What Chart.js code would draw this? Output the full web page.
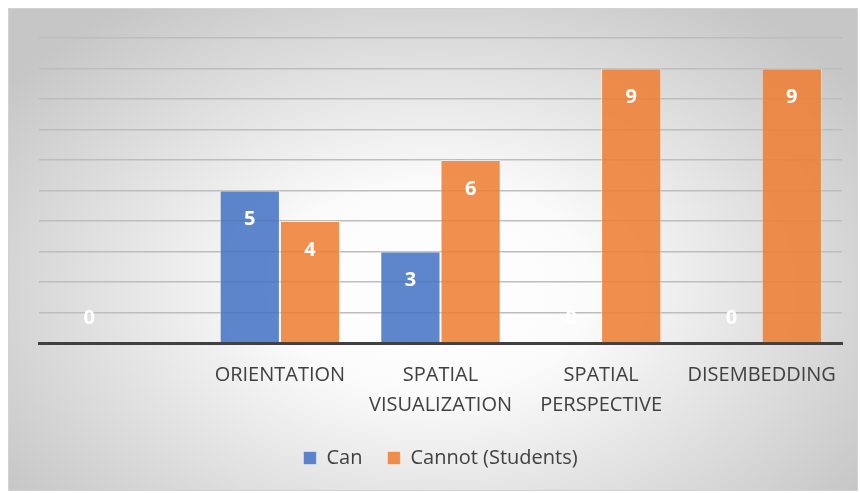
<!DOCTYPE html>
<html>
<head>
<meta charset="utf-8">
<script src="https://cdn.jsdelivr.net/npm/chart.js@4.4.1/dist/chart.umd.min.js"></script>
<style>
  html, body { margin: 0; padding: 0; background: #fff; }
  #frame {
    position: absolute; left: 8px; top: 8px; width: 848px; height: 481px;
    border: 1px solid #d2d2d2;
    background: radial-gradient(ellipse 62% 72% at 50% 58%, #ffffff 0%, #fbfbfb 30%, #c6c6c6 100%);
  }
  canvas { display: block; }
</style>
</head>
<body>
<div id="frame"><canvas id="chart" width="848" height="481"></canvas></div>
<script>
// data
const categories = ['', 'ORIENTATION', ['SPATIAL', 'VISUALIZATION'], ['SPATIAL', 'PERSPECTIVE'], 'DISEMBEDDING'];
const canValues = [0, 5, 3, 0, 0];
const cannotValues = [null, 4, 6, 9, 9];
const seriesNames = ['Can', 'Cannot (Students)'];

// white labels inside the bar top, zero values sit just above the axis
const barLabels = {
    id: 'barLabels',
    afterDatasetsDraw(chart) {
        const ctx = chart.ctx;
        ctx.save();
        ctx.font = 'bold 20px "Open Sans"';
        ctx.fillStyle = '#ffffff';
        ctx.textAlign = 'center';
        ctx.textBaseline = 'middle';
        chart.data.datasets.forEach((ds, i) => {
            const meta = chart.getDatasetMeta(i);
            meta.data.forEach((bar, j) => {
                const v = ds.data[j];
                if (v === null || v === undefined) return;
                const y = v === 0 ? bar.base - 25 : bar.y + 29;
                ctx.fillText(String(v), bar.x, y);
            });
        });
        ctx.restore();
    }
};

Chart.defaults.font.family = '"Open Sans"';
Chart.defaults.color = '#404040';

new Chart(document.getElementById('chart'), {
    type: 'bar',
    data: {
        labels: categories,
        datasets: [{
            label: seriesNames[0],
            data: canValues,
            backgroundColor: 'rgba(68,114,196,0.86)',
            borderColor: 'rgba(255,255,255,0.45)',
            borderWidth: 1
        }, {
            label: seriesNames[1],
            data: cannotValues,
            backgroundColor: 'rgba(237,125,49,0.86)',
            borderColor: 'rgba(255,255,255,0.45)',
            borderWidth: 1
        }]
    },
    options: {
        responsive: false,
        animation: false,
        layout: { padding: { left: 30, right: 15, top: 29, bottom: 12 } },
        datasets: { bar: { categoryPercentage: 0.75, barPercentage: 1.0 } },
        scales: {
            x: {
                grid: { display: false, drawTicks: false },
                border: { color: '#404040', width: 3 },
                ticks: { padding: 17, maxRotation: 0, autoSkip: false, font: { size: 20, lineHeight: 1.5 }, color: '#404040' },
                afterFit(scale) { scale.height = 80; }
            },
            y: {
                min: 0, max: 10,
                ticks: { display: false, stepSize: 1 },
                grid: { color: '#bdbdbd', lineWidth: 1.5, drawTicks: false },
                border: { display: false }
            }
        },
        plugins: {
            legend: {
                position: 'bottom',
                labels: { boxWidth: 13, boxHeight: 13, padding: 25, font: { size: 20 }, color: '#404040' }
            },
            tooltip: { enabled: false }
        }
    },
    plugins: [barLabels]
});
</script>
</body>
</html>
